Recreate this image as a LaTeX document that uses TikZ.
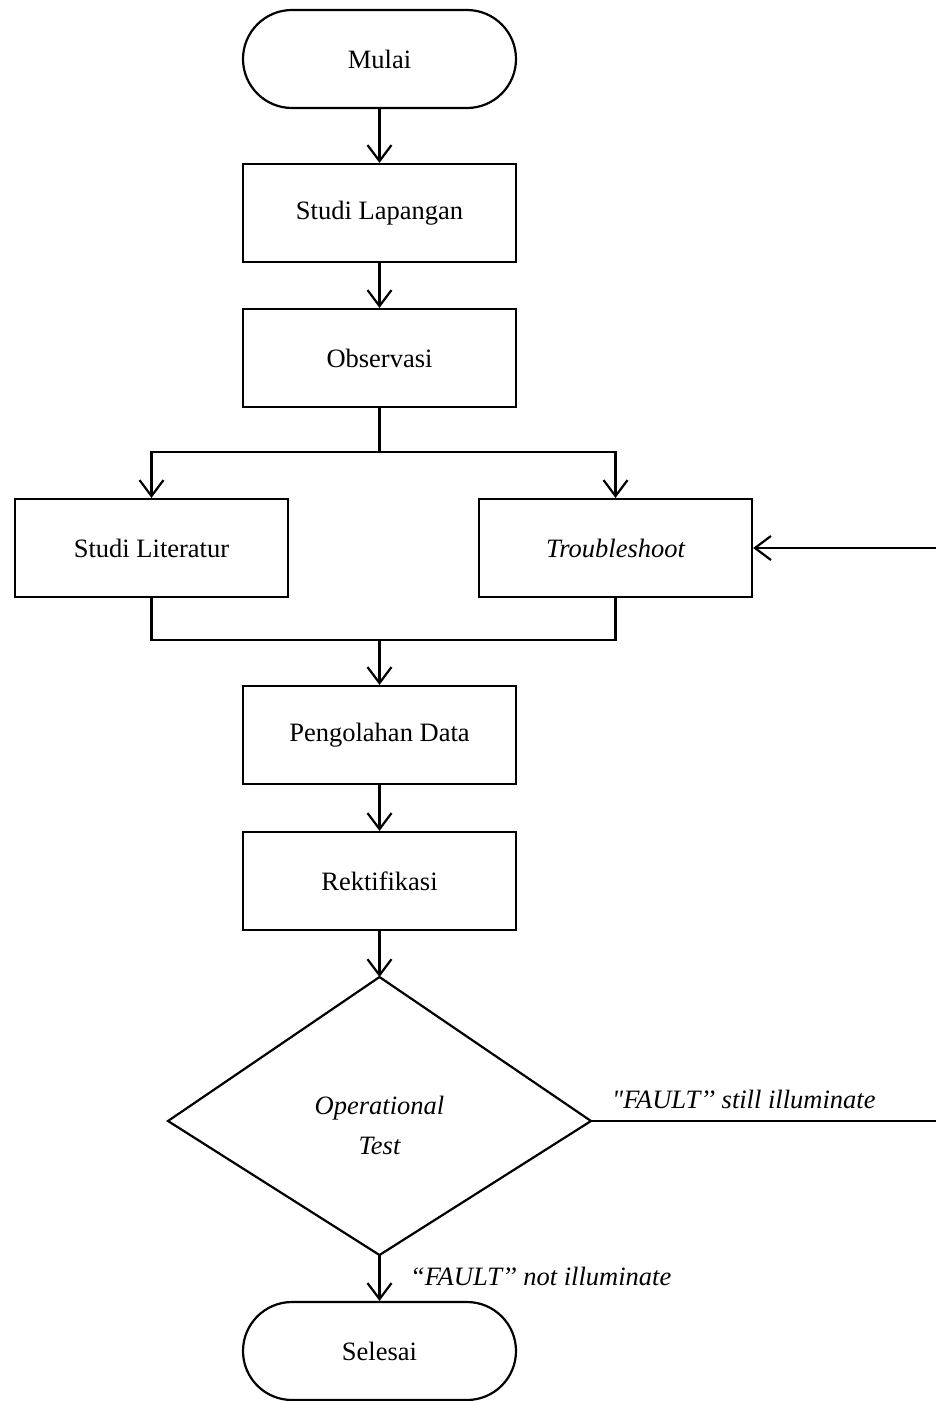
\documentclass[tikz,border=0pt]{standalone}
\usepackage{fontspec}
\setmainfont{Liberation Serif}
\usetikzlibrary{arrows.meta,shapes.geometric}
\begin{document}
\begin{tikzpicture}[x=1pt,y=-1pt,
  every node/.style={font=\fontsize{26.5}{30}\selectfont},
  proc/.style={draw,line width=2.2pt,minimum width=273pt,minimum height=98pt,inner sep=0pt},
  term/.style={draw,line width=2.2pt,rounded corners=49pt,minimum width=273pt,minimum height=98pt,inner sep=0pt},
  conn/.style={line width=2.2pt},
  arr/.style={conn,-{Straight Barb[length=16pt,width=24pt,line width=2.2pt]}},
  lbl/.style={font=\fontsize{26.5}{30}\selectfont\itshape,inner sep=0pt}]
\useasboundingbox (0,0) rectangle (935,1401);
\node[term] (mulai) at (379.5,59) {Mulai};
\node[proc] (lap) at (379.5,213) {Studi Lapangan};
\node[proc] (obs) at (379.5,358) {Observasi};
\node[proc] (lit) at (151.5,548) {Studi Literatur};
\node[proc] (trb) at (615.5,548) {\itshape Troubleshoot};
\node[proc] (pd) at (379.5,735) {Pengolahan Data};
\node[proc] (rek) at (379.5,881) {Rektifikasi};
\coordinate (dt) at (379.5,977);
\coordinate (db) at (379.5,1255);
\coordinate (dl) at (168,1121);
\coordinate (dr) at (591,1121);
\draw[conn,line join=miter] (dt) -- (dr) -- (db) -- (dl) -- cycle;
\node[lbl,align=center] (optxt) at (379.5,1125) {Operational\\[10pt]Test};
\node[term] (sel) at (379.5,1351) {Selesai};
\coordinate (split) at (379.5,452);
\coordinate (join) at (379.5,640);
\coordinate (re) at (938,1121);
\coordinate (rt) at (938,548);
\draw[arr] (mulai) -- (lap);
\draw[arr] (lap) -- (obs);
\draw[conn] (obs.south) -- (split);
\draw[arr] (split) -| (lit.north);
\draw[arr] (split) -| (trb.north);
\draw[conn] (lit.south) |- (join);
\draw[conn] (trb.south) |- (join);
\draw[arr] (join) -- (pd.north);
\draw[arr] (pd) -- (rek);
\draw[arr] (rek.south) -- (dt);
\draw[arr] (db) -- (sel.north);
\draw[arr] (dr) -- (re) -- (rt) -- (trb.east);
\node[lbl,anchor=south west] (l1) at (612,1109) {{\addfontfeatures{Ligatures=TeXOff}"}FAULT’’ still illuminate};
\node[lbl,anchor=west] (l2) at (410,1276) {“FAULT’’ not illuminate};
\end{tikzpicture}
\end{document}
